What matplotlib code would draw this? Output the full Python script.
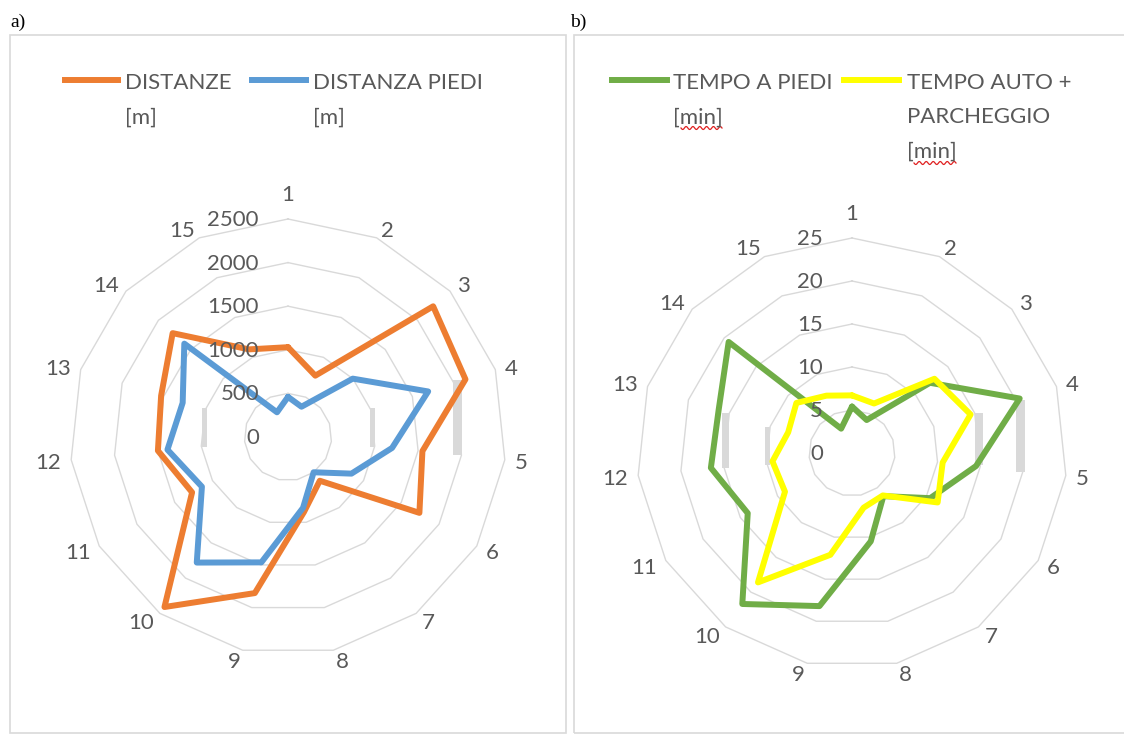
import matplotlib
matplotlib.use('Agg')
import matplotlib.pyplot as plt
import numpy as np
from matplotlib.lines import Line2D
from matplotlib.patches import Rectangle

# ---------------- data ----------------
categories = [str(i) for i in range(1, 16)]

distanze = [1030, 770, 2240, 2140, 1550, 1740, 620, 880, 1830, 2410, 1270, 1500, 1530, 1780, 1100]
distanza_piedi = [460, 380, 1000, 1690, 1200, 840, 500, 830, 1470, 1780, 1140, 1390, 1270, 1600, 310]

tempo_piedi = [5.4, 4.2, 12.2, 20.5, 14.5, 10.5, 6.2, 10.5, 18.2, 21.7, 14.0, 16.5, 16.3, 19.3, 3.1]
tempo_auto = [6.7, 6.3, 12.9, 14.5, 10.6, 11.5, 6.1, 6.5, 12.1, 18.6, 9.0, 9.3, 7.8, 8.7, 7.3]

ticks_a = [0, 500, 1000, 1500, 2000, 2500]
ticks_b = [0, 5, 10, 15, 20, 25]

labels_a = ["DISTANZE\n[m]", "DISTANZA PIEDI\n[m]"]
labels_b = ["TEMPO A PIEDI\n[min]", "TEMPO AUTO +\nPARCHEGGIO\n[min]"]

colors_a = ["#ED7D31", "#5B9BD5"]
colors_b = ["#70AD47", "#FFFF00"]

TXT = "#595959"
GRID = "#D9D9D9"
FONT = "Lato"
FS = 16

W, H = 1124, 734
fig = plt.figure(figsize=(W / 100, H / 100), dpi=100)
fig.patch.set_facecolor("white")


def px_axes(cx, cy, r):
    return [(cx - r) / W, (H - cy - r) / H, 2 * r / W, 2 * r / H]


def radar(rect, series, colors, ticks):
    ax = fig.add_axes(rect, projection="polar")
    ax.set_theta_zero_location("N")
    ax.set_theta_direction(-1)
    rmax = ticks[-1]
    ax.set_ylim(0, rmax)
    ax.axis("off")
    n = len(categories)
    theta = np.deg2rad(np.arange(n) * 360.0 / n)
    th_c = np.append(theta, theta[0])
    # polygonal grid
    for t in ticks[1:]:
        ax.plot(th_c, [t] * (n + 1), color=GRID, lw=1.0, clip_on=False, zorder=1)
    # data
    for vals, c in zip(series, colors):
        v = list(vals) + [vals[0]]
        ax.plot(th_c, v, color=c, lw=4.3, solid_joinstyle="round",
                solid_capstyle="round", clip_on=False, zorder=3)
    # radial tick labels
    for t in ticks:
        ax.annotate(str(t), xy=(0, t), xytext=(-29, -1), textcoords="offset pixels",
                    ha="right", va="center", fontsize=FS, color=TXT,
                    family=FONT, zorder=4)
    # category labels (Excel-like placement next to the outer vertex)
    for th, lab in zip(theta, categories):
        s, c = np.sin(th), np.cos(th)
        d = 10
        if abs(s) < 0.1:
            ha = "center"
            va = "bottom" if c > 0 else "top"
            off = (0, d * c + (4 if c > 0 else -4))
        else:
            ha = "left" if s > 0 else "right"
            va = "center"
            off = (d * s, d * c - 2)
        ax.annotate(lab, xy=(th, rmax), xytext=off, textcoords="offset pixels",
                    ha=ha, va=va, fontsize=FS, color=TXT, family=FONT,
                    annotation_clip=False)
    return ax


ax_a = radar(px_axes(288, 437, 218), [distanze, distanza_piedi], colors_a, ticks_a)
ax_b = radar(px_axes(852, 453, 215), [tempo_piedi, tempo_auto], colors_b, ticks_b)

# panel borders
for x0, x1 in [(10, 566), (574, 1130)]:
    fig.add_artist(Rectangle((x0 / W, (H - 733) / H), (x1 - x0) / W, (733 - 35) / H,
                             transform=fig.transFigure, fill=False,
                             edgecolor="#D9D9D9", lw=1.2))

# faint vertical bars visible in the source image (scan artefacts)
for x0, x1, y0, y1 in [(202, 207, 408, 447), (370, 375, 408, 447), (453, 462, 380, 455),
                       (722, 729, 413, 468), (765, 770, 427, 465),
                       (975, 983, 413, 465), (1016, 1025, 400, 472)]:
    fig.add_artist(Rectangle((x0 / W, (H - y1) / H), (x1 - x0) / W, (y1 - y0) / H,
                             transform=fig.transFigure, facecolor="#D9D9D9",
                             edgecolor="none", zorder=-1))

# panel letters
fig.text(10 / W, 1 - 22 / H, "a)", family="Liberation Serif", fontsize=14,
         ha="left", va="center", color="black")
fig.text(570 / W, 1 - 22 / H, "b)", family="Liberation Serif", fontsize=14,
         ha="left", va="center", color="black")


# legends
def legend_entry(x_line0, x_line1, x_text, label, color):
    y = 1 - 80 / H
    fig.add_artist(Line2D([x_line0 / W, x_line1 / W], [y, y], transform=fig.transFigure,
                          color=color, lw=4.3))
    fig.text(x_text / W, 1 - 73 / H, label, ha="left", va="top", fontsize=FS,
             color=TXT, family=FONT, linespacing=1.9)


legend_entry(65, 118, 125, labels_a[0], colors_a[0])
legend_entry(252, 306, 313, labels_a[1], colors_a[1])
legend_entry(612, 667, 673, labels_b[0], colors_b[0])
legend_entry(844, 899, 907, labels_b[1], colors_b[1])


# spell-check squiggles under "min"
def squiggle(x0, x1, y):
    xs = np.linspace(x0, x1, 60)
    ys = y + 1.5 * np.sin((xs - x0) / (x1 - x0) * 2 * np.pi * 6)
    fig.add_artist(Line2D(xs / W, 1 - ys / H, transform=fig.transFigure,
                          color="#E02020", lw=0.9))


squiggle(681, 722, 128)
squiggle(914, 956, 163)

fig.savefig("out.png", dpi=100, facecolor="white")
